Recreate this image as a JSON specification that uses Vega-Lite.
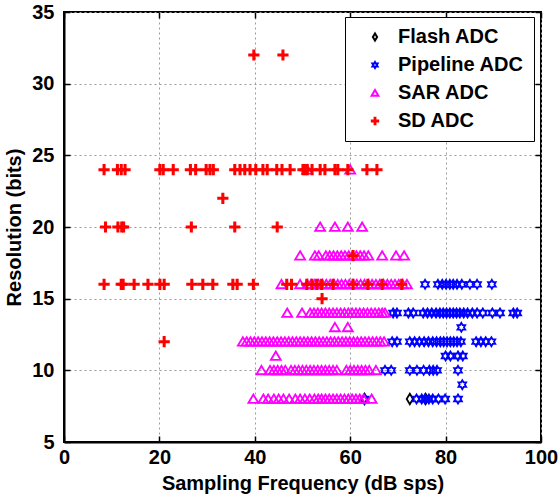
{
  "$schema": "https://vega.github.io/schema/vega-lite/v6.json",
  "width": 477,
  "height": 430,
  "autosize": {"type": "none"},
  "padding": {"left": 64, "top": 12, "right": 18, "bottom": 58},
  "background": "white",
  "config": {
    "view": {"stroke": "black", "strokeWidth": 2},
    "font": "Liberation Sans",
    "axis": {
      "labelFont": "Liberation Sans", "labelFontSize": 20, "labelFontWeight": "bold", "labelColor": "black", "labelFlush": false, "labelOverlap": false,
      "titleFont": "Liberation Sans", "titleFontSize": 20, "titleFontWeight": "bold", "titleColor": "black",
      "domainColor": "black", "domainWidth": 2, "tickColor": "black", "tickWidth": 1.5,
      "gridColor": "#9a9a9a", "gridDash": [2, 3], "gridWidth": 1, "gridOpacity": 1
    },
    "legend": {
      "labelFont": "Liberation Sans", "labelFontSize": 20, "labelFontWeight": "bold", "labelColor": "black"
    }
  },
  "data": {"values": [
    {"adc": "Flash ADC", "fs": 63, "bits": 8},
    {"adc": "Flash ADC", "fs": 72.5, "bits": 8},
    {"adc": "Flash ADC", "fs": 75.8, "bits": 8},
    {"adc": "Pipeline ADC", "fs": 75.7, "bits": 16},
    {"adc": "Pipeline ADC", "fs": 78.4, "bits": 16},
    {"adc": "Pipeline ADC", "fs": 79.3, "bits": 16},
    {"adc": "Pipeline ADC", "fs": 80.1, "bits": 16},
    {"adc": "Pipeline ADC", "fs": 80.9, "bits": 16},
    {"adc": "Pipeline ADC", "fs": 81.6, "bits": 16},
    {"adc": "Pipeline ADC", "fs": 82.4, "bits": 16},
    {"adc": "Pipeline ADC", "fs": 83.4, "bits": 16},
    {"adc": "Pipeline ADC", "fs": 85.1, "bits": 16},
    {"adc": "Pipeline ADC", "fs": 86.6, "bits": 16},
    {"adc": "Pipeline ADC", "fs": 89.7, "bits": 16},
    {"adc": "Pipeline ADC", "fs": 69, "bits": 14},
    {"adc": "Pipeline ADC", "fs": 69.8, "bits": 14},
    {"adc": "Pipeline ADC", "fs": 72.2, "bits": 14},
    {"adc": "Pipeline ADC", "fs": 73.2, "bits": 14},
    {"adc": "Pipeline ADC", "fs": 75.3, "bits": 14},
    {"adc": "Pipeline ADC", "fs": 76.2, "bits": 14},
    {"adc": "Pipeline ADC", "fs": 77.1, "bits": 14},
    {"adc": "Pipeline ADC", "fs": 78, "bits": 14},
    {"adc": "Pipeline ADC", "fs": 78.8, "bits": 14},
    {"adc": "Pipeline ADC", "fs": 79.5, "bits": 14},
    {"adc": "Pipeline ADC", "fs": 80.2, "bits": 14},
    {"adc": "Pipeline ADC", "fs": 80.9, "bits": 14},
    {"adc": "Pipeline ADC", "fs": 81.6, "bits": 14},
    {"adc": "Pipeline ADC", "fs": 82.3, "bits": 14},
    {"adc": "Pipeline ADC", "fs": 83, "bits": 14},
    {"adc": "Pipeline ADC", "fs": 83.8, "bits": 14},
    {"adc": "Pipeline ADC", "fs": 84.6, "bits": 14},
    {"adc": "Pipeline ADC", "fs": 85.6, "bits": 14},
    {"adc": "Pipeline ADC", "fs": 86.6, "bits": 14},
    {"adc": "Pipeline ADC", "fs": 87.8, "bits": 14},
    {"adc": "Pipeline ADC", "fs": 89.8, "bits": 14},
    {"adc": "Pipeline ADC", "fs": 91.4, "bits": 14},
    {"adc": "Pipeline ADC", "fs": 94.2, "bits": 14},
    {"adc": "Pipeline ADC", "fs": 95, "bits": 14},
    {"adc": "Pipeline ADC", "fs": 83.3, "bits": 13},
    {"adc": "Pipeline ADC", "fs": 68.8, "bits": 12},
    {"adc": "Pipeline ADC", "fs": 69.8, "bits": 12},
    {"adc": "Pipeline ADC", "fs": 72.5, "bits": 12},
    {"adc": "Pipeline ADC", "fs": 73.5, "bits": 12},
    {"adc": "Pipeline ADC", "fs": 74.5, "bits": 12},
    {"adc": "Pipeline ADC", "fs": 75.5, "bits": 12},
    {"adc": "Pipeline ADC", "fs": 76.4, "bits": 12},
    {"adc": "Pipeline ADC", "fs": 77.3, "bits": 12},
    {"adc": "Pipeline ADC", "fs": 78.1, "bits": 12},
    {"adc": "Pipeline ADC", "fs": 78.9, "bits": 12},
    {"adc": "Pipeline ADC", "fs": 79.6, "bits": 12},
    {"adc": "Pipeline ADC", "fs": 80.3, "bits": 12},
    {"adc": "Pipeline ADC", "fs": 81, "bits": 12},
    {"adc": "Pipeline ADC", "fs": 81.7, "bits": 12},
    {"adc": "Pipeline ADC", "fs": 82.4, "bits": 12},
    {"adc": "Pipeline ADC", "fs": 83.2, "bits": 12},
    {"adc": "Pipeline ADC", "fs": 86.4, "bits": 12},
    {"adc": "Pipeline ADC", "fs": 87.4, "bits": 12},
    {"adc": "Pipeline ADC", "fs": 88.4, "bits": 12},
    {"adc": "Pipeline ADC", "fs": 89.6, "bits": 12},
    {"adc": "Pipeline ADC", "fs": 80, "bits": 11},
    {"adc": "Pipeline ADC", "fs": 81, "bits": 11},
    {"adc": "Pipeline ADC", "fs": 82.6, "bits": 11},
    {"adc": "Pipeline ADC", "fs": 83.6, "bits": 11},
    {"adc": "Pipeline ADC", "fs": 67.3, "bits": 10},
    {"adc": "Pipeline ADC", "fs": 68.6, "bits": 10},
    {"adc": "Pipeline ADC", "fs": 72.5, "bits": 10},
    {"adc": "Pipeline ADC", "fs": 74, "bits": 10},
    {"adc": "Pipeline ADC", "fs": 75.4, "bits": 10},
    {"adc": "Pipeline ADC", "fs": 76.6, "bits": 10},
    {"adc": "Pipeline ADC", "fs": 77.4, "bits": 10},
    {"adc": "Pipeline ADC", "fs": 78.2, "bits": 10},
    {"adc": "Pipeline ADC", "fs": 82.6, "bits": 10},
    {"adc": "Pipeline ADC", "fs": 83.5, "bits": 9},
    {"adc": "Pipeline ADC", "fs": 63, "bits": 8},
    {"adc": "Pipeline ADC", "fs": 73.9, "bits": 8},
    {"adc": "Pipeline ADC", "fs": 75, "bits": 8},
    {"adc": "Pipeline ADC", "fs": 75.7, "bits": 8},
    {"adc": "Pipeline ADC", "fs": 76.5, "bits": 8},
    {"adc": "Pipeline ADC", "fs": 77.3, "bits": 8},
    {"adc": "Pipeline ADC", "fs": 78.5, "bits": 8},
    {"adc": "Pipeline ADC", "fs": 79.9, "bits": 8},
    {"adc": "Pipeline ADC", "fs": 82.6, "bits": 8},
    {"adc": "SAR ADC", "fs": 51, "bits": 24},
    {"adc": "SAR ADC", "fs": 60, "bits": 24},
    {"adc": "SAR ADC", "fs": 53.7, "bits": 20},
    {"adc": "SAR ADC", "fs": 56.8, "bits": 20},
    {"adc": "SAR ADC", "fs": 59.5, "bits": 20},
    {"adc": "SAR ADC", "fs": 62.5, "bits": 20},
    {"adc": "SAR ADC", "fs": 49.5, "bits": 18},
    {"adc": "SAR ADC", "fs": 52.6, "bits": 18},
    {"adc": "SAR ADC", "fs": 53.4, "bits": 18},
    {"adc": "SAR ADC", "fs": 54.9, "bits": 18},
    {"adc": "SAR ADC", "fs": 55.7, "bits": 18},
    {"adc": "SAR ADC", "fs": 56.5, "bits": 18},
    {"adc": "SAR ADC", "fs": 57.3, "bits": 18},
    {"adc": "SAR ADC", "fs": 58.1, "bits": 18},
    {"adc": "SAR ADC", "fs": 58.9, "bits": 18},
    {"adc": "SAR ADC", "fs": 59.7, "bits": 18},
    {"adc": "SAR ADC", "fs": 60.5, "bits": 18},
    {"adc": "SAR ADC", "fs": 61.3, "bits": 18},
    {"adc": "SAR ADC", "fs": 62.1, "bits": 18},
    {"adc": "SAR ADC", "fs": 62.9, "bits": 18},
    {"adc": "SAR ADC", "fs": 63.8, "bits": 18},
    {"adc": "SAR ADC", "fs": 66.7, "bits": 18},
    {"adc": "SAR ADC", "fs": 69.6, "bits": 18},
    {"adc": "SAR ADC", "fs": 71.3, "bits": 18},
    {"adc": "SAR ADC", "fs": 45.6, "bits": 16},
    {"adc": "SAR ADC", "fs": 49.5, "bits": 16},
    {"adc": "SAR ADC", "fs": 51, "bits": 16},
    {"adc": "SAR ADC", "fs": 51.8, "bits": 16},
    {"adc": "SAR ADC", "fs": 52.6, "bits": 16},
    {"adc": "SAR ADC", "fs": 53.4, "bits": 16},
    {"adc": "SAR ADC", "fs": 54.2, "bits": 16},
    {"adc": "SAR ADC", "fs": 55, "bits": 16},
    {"adc": "SAR ADC", "fs": 55.8, "bits": 16},
    {"adc": "SAR ADC", "fs": 56.6, "bits": 16},
    {"adc": "SAR ADC", "fs": 57.4, "bits": 16},
    {"adc": "SAR ADC", "fs": 58.2, "bits": 16},
    {"adc": "SAR ADC", "fs": 59, "bits": 16},
    {"adc": "SAR ADC", "fs": 59.8, "bits": 16},
    {"adc": "SAR ADC", "fs": 60.6, "bits": 16},
    {"adc": "SAR ADC", "fs": 61.4, "bits": 16},
    {"adc": "SAR ADC", "fs": 62.2, "bits": 16},
    {"adc": "SAR ADC", "fs": 63, "bits": 16},
    {"adc": "SAR ADC", "fs": 63.8, "bits": 16},
    {"adc": "SAR ADC", "fs": 64.6, "bits": 16},
    {"adc": "SAR ADC", "fs": 65.4, "bits": 16},
    {"adc": "SAR ADC", "fs": 66.2, "bits": 16},
    {"adc": "SAR ADC", "fs": 67, "bits": 16},
    {"adc": "SAR ADC", "fs": 67.8, "bits": 16},
    {"adc": "SAR ADC", "fs": 68.6, "bits": 16},
    {"adc": "SAR ADC", "fs": 69.4, "bits": 16},
    {"adc": "SAR ADC", "fs": 70.2, "bits": 16},
    {"adc": "SAR ADC", "fs": 71, "bits": 16},
    {"adc": "SAR ADC", "fs": 71.9, "bits": 16},
    {"adc": "SAR ADC", "fs": 46.8, "bits": 14},
    {"adc": "SAR ADC", "fs": 49.9, "bits": 14},
    {"adc": "SAR ADC", "fs": 51.6, "bits": 14},
    {"adc": "SAR ADC", "fs": 52.4, "bits": 14},
    {"adc": "SAR ADC", "fs": 53.2, "bits": 14},
    {"adc": "SAR ADC", "fs": 54, "bits": 14},
    {"adc": "SAR ADC", "fs": 54.8, "bits": 14},
    {"adc": "SAR ADC", "fs": 55.6, "bits": 14},
    {"adc": "SAR ADC", "fs": 56.4, "bits": 14},
    {"adc": "SAR ADC", "fs": 57.2, "bits": 14},
    {"adc": "SAR ADC", "fs": 58, "bits": 14},
    {"adc": "SAR ADC", "fs": 58.8, "bits": 14},
    {"adc": "SAR ADC", "fs": 59.6, "bits": 14},
    {"adc": "SAR ADC", "fs": 60.4, "bits": 14},
    {"adc": "SAR ADC", "fs": 61.2, "bits": 14},
    {"adc": "SAR ADC", "fs": 62, "bits": 14},
    {"adc": "SAR ADC", "fs": 62.8, "bits": 14},
    {"adc": "SAR ADC", "fs": 63.6, "bits": 14},
    {"adc": "SAR ADC", "fs": 64.4, "bits": 14},
    {"adc": "SAR ADC", "fs": 65.2, "bits": 14},
    {"adc": "SAR ADC", "fs": 66, "bits": 14},
    {"adc": "SAR ADC", "fs": 66.7, "bits": 14},
    {"adc": "SAR ADC", "fs": 67.3, "bits": 14},
    {"adc": "SAR ADC", "fs": 56.8, "bits": 13},
    {"adc": "SAR ADC", "fs": 59.5, "bits": 13},
    {"adc": "SAR ADC", "fs": 37.5, "bits": 12},
    {"adc": "SAR ADC", "fs": 38.3, "bits": 12},
    {"adc": "SAR ADC", "fs": 39.1, "bits": 12},
    {"adc": "SAR ADC", "fs": 39.9, "bits": 12},
    {"adc": "SAR ADC", "fs": 40.7, "bits": 12},
    {"adc": "SAR ADC", "fs": 41.5, "bits": 12},
    {"adc": "SAR ADC", "fs": 42.3, "bits": 12},
    {"adc": "SAR ADC", "fs": 43.1, "bits": 12},
    {"adc": "SAR ADC", "fs": 43.9, "bits": 12},
    {"adc": "SAR ADC", "fs": 44.7, "bits": 12},
    {"adc": "SAR ADC", "fs": 45.5, "bits": 12},
    {"adc": "SAR ADC", "fs": 46.3, "bits": 12},
    {"adc": "SAR ADC", "fs": 47.1, "bits": 12},
    {"adc": "SAR ADC", "fs": 47.9, "bits": 12},
    {"adc": "SAR ADC", "fs": 48.7, "bits": 12},
    {"adc": "SAR ADC", "fs": 49.5, "bits": 12},
    {"adc": "SAR ADC", "fs": 50.3, "bits": 12},
    {"adc": "SAR ADC", "fs": 51.1, "bits": 12},
    {"adc": "SAR ADC", "fs": 51.9, "bits": 12},
    {"adc": "SAR ADC", "fs": 52.7, "bits": 12},
    {"adc": "SAR ADC", "fs": 53.5, "bits": 12},
    {"adc": "SAR ADC", "fs": 54.3, "bits": 12},
    {"adc": "SAR ADC", "fs": 55.1, "bits": 12},
    {"adc": "SAR ADC", "fs": 55.9, "bits": 12},
    {"adc": "SAR ADC", "fs": 56.7, "bits": 12},
    {"adc": "SAR ADC", "fs": 57.5, "bits": 12},
    {"adc": "SAR ADC", "fs": 58.3, "bits": 12},
    {"adc": "SAR ADC", "fs": 59.1, "bits": 12},
    {"adc": "SAR ADC", "fs": 59.9, "bits": 12},
    {"adc": "SAR ADC", "fs": 60.7, "bits": 12},
    {"adc": "SAR ADC", "fs": 61.5, "bits": 12},
    {"adc": "SAR ADC", "fs": 62.3, "bits": 12},
    {"adc": "SAR ADC", "fs": 63.1, "bits": 12},
    {"adc": "SAR ADC", "fs": 63.9, "bits": 12},
    {"adc": "SAR ADC", "fs": 64.7, "bits": 12},
    {"adc": "SAR ADC", "fs": 65.5, "bits": 12},
    {"adc": "SAR ADC", "fs": 66.3, "bits": 12},
    {"adc": "SAR ADC", "fs": 67.1, "bits": 12},
    {"adc": "SAR ADC", "fs": 44.4, "bits": 11},
    {"adc": "SAR ADC", "fs": 41.4, "bits": 10},
    {"adc": "SAR ADC", "fs": 43.2, "bits": 10},
    {"adc": "SAR ADC", "fs": 44, "bits": 10},
    {"adc": "SAR ADC", "fs": 44.8, "bits": 10},
    {"adc": "SAR ADC", "fs": 45.6, "bits": 10},
    {"adc": "SAR ADC", "fs": 46.4, "bits": 10},
    {"adc": "SAR ADC", "fs": 47.6, "bits": 10},
    {"adc": "SAR ADC", "fs": 48.4, "bits": 10},
    {"adc": "SAR ADC", "fs": 49.2, "bits": 10},
    {"adc": "SAR ADC", "fs": 50, "bits": 10},
    {"adc": "SAR ADC", "fs": 50.8, "bits": 10},
    {"adc": "SAR ADC", "fs": 51.6, "bits": 10},
    {"adc": "SAR ADC", "fs": 52.4, "bits": 10},
    {"adc": "SAR ADC", "fs": 53.2, "bits": 10},
    {"adc": "SAR ADC", "fs": 54, "bits": 10},
    {"adc": "SAR ADC", "fs": 54.8, "bits": 10},
    {"adc": "SAR ADC", "fs": 55.6, "bits": 10},
    {"adc": "SAR ADC", "fs": 56.4, "bits": 10},
    {"adc": "SAR ADC", "fs": 57.2, "bits": 10},
    {"adc": "SAR ADC", "fs": 59.2, "bits": 10},
    {"adc": "SAR ADC", "fs": 60, "bits": 10},
    {"adc": "SAR ADC", "fs": 60.8, "bits": 10},
    {"adc": "SAR ADC", "fs": 61.6, "bits": 10},
    {"adc": "SAR ADC", "fs": 62.4, "bits": 10},
    {"adc": "SAR ADC", "fs": 63.2, "bits": 10},
    {"adc": "SAR ADC", "fs": 64, "bits": 10},
    {"adc": "SAR ADC", "fs": 65.4, "bits": 10},
    {"adc": "SAR ADC", "fs": 39.7, "bits": 8},
    {"adc": "SAR ADC", "fs": 41.8, "bits": 8},
    {"adc": "SAR ADC", "fs": 42.8, "bits": 8},
    {"adc": "SAR ADC", "fs": 44, "bits": 8},
    {"adc": "SAR ADC", "fs": 45, "bits": 8},
    {"adc": "SAR ADC", "fs": 46, "bits": 8},
    {"adc": "SAR ADC", "fs": 47.2, "bits": 8},
    {"adc": "SAR ADC", "fs": 48.5, "bits": 8},
    {"adc": "SAR ADC", "fs": 49.5, "bits": 8},
    {"adc": "SAR ADC", "fs": 50.5, "bits": 8},
    {"adc": "SAR ADC", "fs": 51.5, "bits": 8},
    {"adc": "SAR ADC", "fs": 52.5, "bits": 8},
    {"adc": "SAR ADC", "fs": 53.3, "bits": 8},
    {"adc": "SAR ADC", "fs": 54, "bits": 8},
    {"adc": "SAR ADC", "fs": 54.8, "bits": 8},
    {"adc": "SAR ADC", "fs": 55.6, "bits": 8},
    {"adc": "SAR ADC", "fs": 56.4, "bits": 8},
    {"adc": "SAR ADC", "fs": 57.2, "bits": 8},
    {"adc": "SAR ADC", "fs": 58, "bits": 8},
    {"adc": "SAR ADC", "fs": 58.8, "bits": 8},
    {"adc": "SAR ADC", "fs": 59.6, "bits": 8},
    {"adc": "SAR ADC", "fs": 60.4, "bits": 8},
    {"adc": "SAR ADC", "fs": 61.2, "bits": 8},
    {"adc": "SAR ADC", "fs": 62, "bits": 8},
    {"adc": "SAR ADC", "fs": 62.8, "bits": 8},
    {"adc": "SAR ADC", "fs": 64.5, "bits": 8},
    {"adc": "SD ADC", "fs": 39.8, "bits": 32},
    {"adc": "SD ADC", "fs": 45.9, "bits": 32},
    {"adc": "SD ADC", "fs": 8.4, "bits": 24},
    {"adc": "SD ADC", "fs": 11.2, "bits": 24},
    {"adc": "SD ADC", "fs": 12, "bits": 24},
    {"adc": "SD ADC", "fs": 12.8, "bits": 24},
    {"adc": "SD ADC", "fs": 20.1, "bits": 24},
    {"adc": "SD ADC", "fs": 20.8, "bits": 24},
    {"adc": "SD ADC", "fs": 22.9, "bits": 24},
    {"adc": "SD ADC", "fs": 26.5, "bits": 24},
    {"adc": "SD ADC", "fs": 27.6, "bits": 24},
    {"adc": "SD ADC", "fs": 29.8, "bits": 24},
    {"adc": "SD ADC", "fs": 30.6, "bits": 24},
    {"adc": "SD ADC", "fs": 31.3, "bits": 24},
    {"adc": "SD ADC", "fs": 35.8, "bits": 24},
    {"adc": "SD ADC", "fs": 36.9, "bits": 24},
    {"adc": "SD ADC", "fs": 37.9, "bits": 24},
    {"adc": "SD ADC", "fs": 39, "bits": 24},
    {"adc": "SD ADC", "fs": 40.2, "bits": 24},
    {"adc": "SD ADC", "fs": 41.7, "bits": 24},
    {"adc": "SD ADC", "fs": 42.6, "bits": 24},
    {"adc": "SD ADC", "fs": 44.6, "bits": 24},
    {"adc": "SD ADC", "fs": 45.7, "bits": 24},
    {"adc": "SD ADC", "fs": 47.4, "bits": 24},
    {"adc": "SD ADC", "fs": 50.1, "bits": 24},
    {"adc": "SD ADC", "fs": 50.6, "bits": 24},
    {"adc": "SD ADC", "fs": 51, "bits": 24},
    {"adc": "SD ADC", "fs": 52, "bits": 24},
    {"adc": "SD ADC", "fs": 53.7, "bits": 24},
    {"adc": "SD ADC", "fs": 54.7, "bits": 24},
    {"adc": "SD ADC", "fs": 56.8, "bits": 24},
    {"adc": "SD ADC", "fs": 57.4, "bits": 24},
    {"adc": "SD ADC", "fs": 59.5, "bits": 24},
    {"adc": "SD ADC", "fs": 63.5, "bits": 24},
    {"adc": "SD ADC", "fs": 65.6, "bits": 24},
    {"adc": "SD ADC", "fs": 33.3, "bits": 22},
    {"adc": "SD ADC", "fs": 8.7, "bits": 20},
    {"adc": "SD ADC", "fs": 11.3, "bits": 20},
    {"adc": "SD ADC", "fs": 12.1, "bits": 20},
    {"adc": "SD ADC", "fs": 12.5, "bits": 20},
    {"adc": "SD ADC", "fs": 26.7, "bits": 20},
    {"adc": "SD ADC", "fs": 35.8, "bits": 20},
    {"adc": "SD ADC", "fs": 44.7, "bits": 20},
    {"adc": "SD ADC", "fs": 60.6, "bits": 18},
    {"adc": "SD ADC", "fs": 8.4, "bits": 16},
    {"adc": "SD ADC", "fs": 12, "bits": 16},
    {"adc": "SD ADC", "fs": 12.4, "bits": 16},
    {"adc": "SD ADC", "fs": 14.7, "bits": 16},
    {"adc": "SD ADC", "fs": 17.6, "bits": 16},
    {"adc": "SD ADC", "fs": 20.1, "bits": 16},
    {"adc": "SD ADC", "fs": 21, "bits": 16},
    {"adc": "SD ADC", "fs": 26.8, "bits": 16},
    {"adc": "SD ADC", "fs": 29.1, "bits": 16},
    {"adc": "SD ADC", "fs": 31.2, "bits": 16},
    {"adc": "SD ADC", "fs": 35.4, "bits": 16},
    {"adc": "SD ADC", "fs": 36.3, "bits": 16},
    {"adc": "SD ADC", "fs": 39.7, "bits": 16},
    {"adc": "SD ADC", "fs": 46.7, "bits": 16},
    {"adc": "SD ADC", "fs": 47.7, "bits": 16},
    {"adc": "SD ADC", "fs": 50.9, "bits": 16},
    {"adc": "SD ADC", "fs": 52, "bits": 16},
    {"adc": "SD ADC", "fs": 53, "bits": 16},
    {"adc": "SD ADC", "fs": 54, "bits": 16},
    {"adc": "SD ADC", "fs": 56.4, "bits": 16},
    {"adc": "SD ADC", "fs": 60.6, "bits": 16},
    {"adc": "SD ADC", "fs": 63.7, "bits": 16},
    {"adc": "SD ADC", "fs": 66.7, "bits": 16},
    {"adc": "SD ADC", "fs": 70.8, "bits": 16},
    {"adc": "SD ADC", "fs": 54.1, "bits": 15},
    {"adc": "SD ADC", "fs": 21, "bits": 12}
  ]},
  "layer": [
    {
      "mark": {"type": "point", "filled": false, "strokeWidth": 1.8, "size": 110, "opacity": 1},
      "encoding": {
        "x": {"field": "fs", "type": "quantitative",
          "scale": {"domain": [0, 100], "nice": false, "zero": false},
          "axis": {"title": "Sampling Frequency (dB sps)", "values": [0, 20, 40, 60, 80, 100], "grid": true, "tickSize": -6, "labelPadding": 11, "titlePadding": 6}},
        "y": {"field": "bits", "type": "quantitative",
          "scale": {"domain": [5, 35], "nice": false, "zero": false},
          "axis": {"title": "Resolution (bits)", "values": [5, 10, 15, 20, 25, 30, 35], "grid": true, "tickSize": -6, "labelPadding": 16, "titlePadding": 7}},
        "color": {"field": "adc", "type": "nominal",
          "scale": {"domain": ["Flash ADC", "Pipeline ADC", "SAR ADC", "SD ADC"], "range": ["#000000", "#0000ff", "#ff00ff", "#ff0000"]},
          "legend": {"title": null, "orient": "none", "legendX": 281, "legendY": 5, "strokeColor": "black", "fillColor": "white", "padding": 10, "rowPadding": 8, "symbolOffset": 10, "labelOffset": 13, "symbolSize": 50, "symbolStrokeWidth": 2}},
        "shape": {"field": "adc", "type": "nominal",
          "scale": {"domain": ["Flash ADC", "Pipeline ADC", "SAR ADC", "SD ADC"], "range": [
            "M0,-1L0.6,0L0,1L-0.6,0Z",
            "M0,-0.85L0.25,-0.43L0.74,-0.43L0.49,0L0.74,0.43L0.25,0.43L0,0.85L-0.25,0.43L-0.74,0.43L-0.49,0L-0.74,-0.43L-0.25,-0.43Z",
            "M0,-0.85L0.95,0.75L-0.95,0.75Z",
            "M-0.9,-0.12L-0.12,-0.12L-0.12,-0.9L0.12,-0.9L0.12,-0.12L0.9,-0.12L0.9,0.12L0.12,0.12L0.12,0.9L-0.12,0.9L-0.12,0.12L-0.9,0.12Z"
          ]},
          "legend": {"title": null}}
      }
    },
    {
      "mark": {"type": "point", "opacity": 0},
      "encoding": {
        "x": {"field": "fs", "type": "quantitative",
          "axis": {"orient": "top", "values": [0, 20, 40, 60, 80, 100], "labels": false, "grid": false, "domain": false, "tickSize": -6, "title": null}},
        "y": {"field": "bits", "type": "quantitative",
          "axis": {"orient": "right", "values": [5, 10, 15, 20, 25, 30, 35], "labels": false, "grid": false, "domain": false, "tickSize": -6, "title": null}}
      }
    }
  ],
  "resolve": {"axis": {"x": "independent", "y": "independent"}}
}
